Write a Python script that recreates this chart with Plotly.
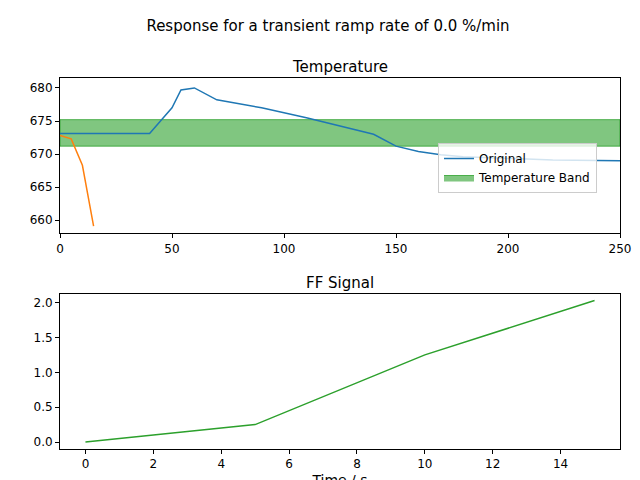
import plotly.graph_objects as go
from plotly.subplots import make_subplots

t_orig = [0, 40, 50, 54, 60, 70, 90, 110, 140, 150, 160, 170, 180, 200, 220, 250]
temp_orig = [673.1, 673.1, 677.0, 679.7, 680.0, 678.2, 677.0, 675.5, 673.0, 671.2, 670.4, 669.9, 669.6, 669.3, 669.1, 669.0]
t_new = [0, 5, 10, 15]
temp_new = [672.8, 672.3, 668.3, 659.1]
band = [671.2, 675.2]
ff_t = [0, 5, 10, 15]
ff_v = [0.0, 0.25, 1.25, 2.03]

fig = make_subplots(rows=2, cols=1, subplot_titles=("Temperature", "FF Signal"), vertical_spacing=0.162)
fig.add_trace(go.Scatter(x=[0, 250, 250, 0, 0], y=[band[0], band[0], band[1], band[1], band[0]], fill="toself",
                         fillcolor="rgba(44,160,44,0.6)", line=dict(color="rgba(44,160,44,0.8)", width=1),
                         mode="lines", name="Temperature Band"), 1, 1)
fig.add_trace(go.Scatter(x=t_orig, y=temp_orig, mode="lines", line=dict(color="#1f77b4", width=1.5), name="Original"), 1, 1)
fig.add_trace(go.Scatter(x=t_new, y=temp_new, mode="lines", line=dict(color="#ff7f0e", width=1.5), showlegend=False), 1, 1)
fig.add_trace(go.Scatter(x=ff_t, y=ff_v, mode="lines", line=dict(color="#2ca02c", width=1.5), showlegend=False), 2, 1)

ax = dict(showgrid=False, zeroline=False, showline=True, linecolor="black", mirror=True, ticks="outside",
          tickcolor="black", ticklen=4, automargin=False)
fig.update_xaxes(**ax)
fig.update_yaxes(**ax)
fig.update_xaxes(range=[0, 250], dtick=50, row=1, col=1)
fig.update_yaxes(range=[658, 681.5], dtick=5, row=1, col=1)
fig.update_xaxes(range=[-0.75, 15.75], dtick=2, title=dict(text="Time / s", standoff=4), row=2, col=1)
fig.update_yaxes(range=[-0.1, 2.13], dtick=0.5, tickformat=".1f", row=2, col=1)
for a in fig.layout.annotations:
    a.font = dict(size=15, color="black")
fig.update_layout(
    width=640, height=480, plot_bgcolor="white", paper_bgcolor="white",
    font=dict(family="DejaVu Sans", size=12, color="black"),
    title=dict(text="Response for a transient ramp rate of 0.0 %/min", x=0.5, xanchor="center",
               y=0.963, yanchor="middle", font=dict(size=15), automargin=False),
    margin=dict(l=52, r=28, t=70, b=39, autoexpand=False),
    legend=dict(x=0.675, y=0.69, xanchor="left", yanchor="bottom", bordercolor="#ccc", borderwidth=1,
                bgcolor="rgba(255,255,255,0.8)", traceorder="reversed"),
)
fig.write_html("out.html")
